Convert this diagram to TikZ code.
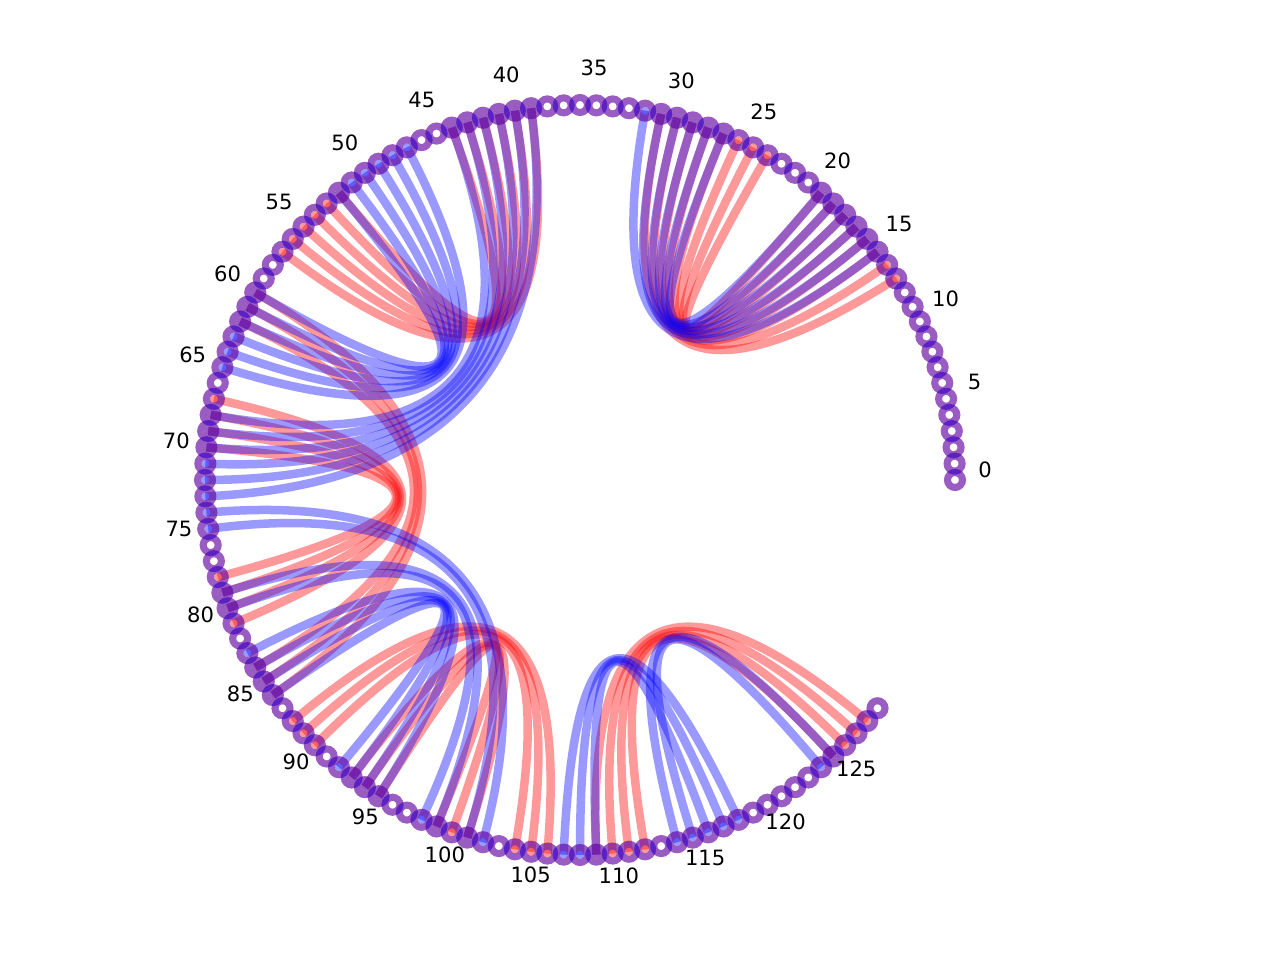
\documentclass[tikz,border=0pt]{standalone}
\usepackage{fontspec}
\setmainfont{DejaVu Sans}
\usetikzlibrary{calc}

% pairs of the two structures (first/second base)
\def\redpairs{13/31,14/30,15/29,16/28,17/27,18/26,19/25,20/24,%
39/57,40/56,41/55,42/54,43/53,44/52,%
60/86,61/85,62/84,67/81,68/80,69/79,70/78,%
88/106,89/105,90/104,93/101,94/100,95/99,%
109/128,110/127,111/126,112/125}
\def\bluepairs{15/32,16/31,17/30,18/29,19/28,20/27,%
39/73,40/72,41/71,42/70,43/69,44/68,%
47/65,48/64,49/63,50/62,51/61,52/60,%
74/102,75/101,79/99,80/98,83/95,84/94,85/93,86/92,%
107/118,108/117,109/116,114/125,115/124}

\begin{document}
\begin{tikzpicture}[x=0.2mm, y=0.2mm,
	redarc/.style={red, opacity=0.4, line width=1.7mm},
	bluearc/.style={blue, opacity=0.4, line width=1.7mm},
	ring/.style={draw=#1, opacity=0.4, line width=1.4mm},
	dot/.style={fill=#1, opacity=0.4},
	idx/.style={font=\fontsize{12}{14}\selectfont, yshift=1.4mm}]
	\useasboundingbox (0,0) rectangle (1280,960);
	\coordinate (ctr) at (580,480);
	\foreach \i in {0,...,129}
		{
			\coordinate (n\i) at ($(ctr)+(\i*2.5:375)$);
		}
	% arcs bent through the centre
	\foreach \a/\b in \redpairs
		{
			\draw[redarc] (n\a) .. controls ($(ctr)!1/3!(n\a)$) and ($(ctr)!1/3!(n\b)$) .. (n\b);
		}
	\foreach \a/\b in \bluepairs
		{
			\draw[bluearc] (n\a) .. controls ($(ctr)!1/3!(n\a)$) and ($(ctr)!1/3!(n\b)$) .. (n\b);
		}
	% bases
	\foreach \i in {0,...,129}
		{
			\draw[ring=red] (n\i) circle (7.5);
		}
	\foreach \a/\b in \redpairs
		{
			\fill[dot=red] (n\a) circle (4) (n\b) circle (4);
		}
	\foreach \i in {0,...,129}
		{
			\draw[ring=blue] (n\i) circle (7.5);
		}
	\foreach \a/\b in \bluepairs
		{
			\fill[dot=blue] (n\a) circle (4) (n\b) circle (4);
		}
	% index labels
	\foreach \i in {0,5,...,125}
		{
			\node[idx] (l\i) at ($(ctr)+(\i*2.5+0.5:405)$) {\i};
		}
\end{tikzpicture}
\end{document}
